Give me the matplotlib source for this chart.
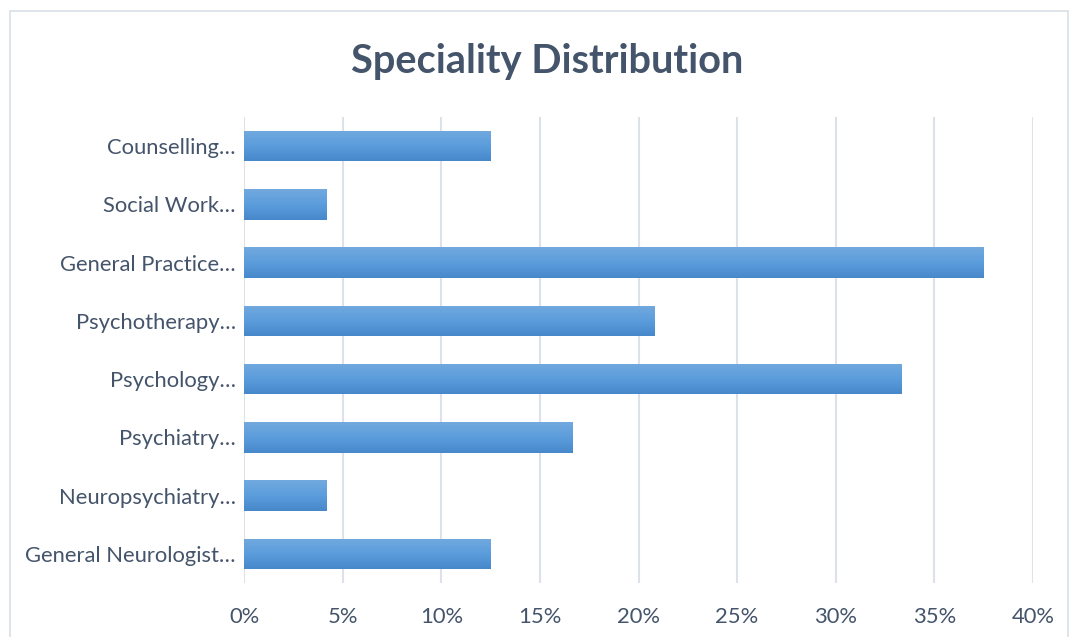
import matplotlib
matplotlib.use("Agg")
import matplotlib.pyplot as plt
import numpy as np
from matplotlib.colors import LinearSegmentedColormap
from matplotlib.patches import Rectangle

categories = ["General Neurologist…", "Neuropsychiatry…", "Psychiatry…", "Psychology…",
              "Psychotherapy…", "General Practice…", "Social Work…", "Counselling…"]
shares = [12.5, 4.17, 16.67, 33.33, 20.83, 37.5, 4.17, 12.5]
x_ticks = [0, 5, 10, 15, 20, 25, 30, 35, 40]
x_labels = [f"{t}%" for t in x_ticks]

text_color = "#44546a"
grid_color = "#dde2ea"
plt.rcParams["font.family"] = ["Lato", "DejaVu Sans"]

W, H = 1072, 637
fig = plt.figure(figsize=(W / 100, H / 100), dpi=100)
fig.patch.set_facecolor("white")

# outer chart frame
fig.add_artist(Rectangle((10 / W, -0.05), (1068 - 10) / W, 1.05 - 11 / H,
                         transform=fig.transFigure, fill=False,
                         edgecolor="#d9dee6", linewidth=1.2))

ax = fig.add_axes([244 / W, 1 - 583 / H, (1033 - 244) / W, (583 - 117) / H])
y = np.arange(len(categories))
bars = ax.barh(y, shares, height=0.52, color="#5b9bd5", zorder=2)

# vertical gradient fill on each bar
grad = LinearSegmentedColormap.from_list("bar", ["#4788cb", "#5b9ddc", "#72a9de"])
gimg = np.linspace(0, 1, 64).reshape(-1, 1)
for b in bars:
    x0, y0, w, h = b.get_x(), b.get_y(), b.get_width(), b.get_height()
    im = ax.imshow(gimg, cmap=grad, aspect="auto", origin="lower",
                   extent=(x0, x0 + w, y0, y0 + h), zorder=3)
    im.set_clip_path(b)
    b.set_alpha(0)

ax.set_xlim(0, 40)
ax.set_ylim(-0.5, len(categories) - 0.5)
ax.set_xticks(x_ticks)
ax.set_xticklabels(x_labels)
ax.set_yticks(y)
ax.set_yticklabels(categories)
ax.grid(axis="x", color=grid_color, linewidth=1.5, zorder=0)
ax.set_axisbelow(True)
for s in ax.spines.values():
    s.set_visible(False)
ax.tick_params(axis="both", length=0, labelsize=15.8, colors=text_color)
ax.tick_params(axis="x", pad=17)
ax.tick_params(axis="y", pad=6)

fig.text(547 / W, 1 - 61 / H, "Speciality Distribution", ha="center", va="center",
         fontsize=28.6, fontweight="bold", color=text_color)

fig.savefig("out.png", dpi=100)
